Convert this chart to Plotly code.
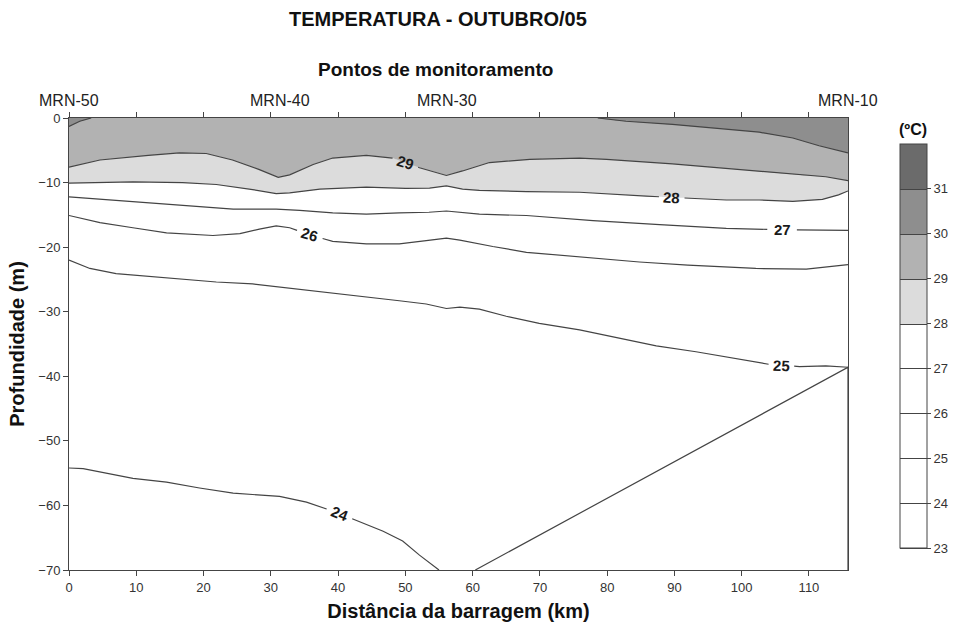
import numpy as np
import plotly.graph_objects as go

# ---------------------------------------------------------------------------
# Temperature section, October 2005: isotherm depths (m) along the reservoir,
# distance (km) from the dam.
# ---------------------------------------------------------------------------
X_MAX = 115.8
DEPTH_MIN = -70.0

ISO_24_KM = [0, 2.1, 9.5, 14.5, 19.4, 24.4, 31.3, 35.3, 38.7, 43.2, 46.7, 49.6, 52.1, 55.0]
ISO_24_M = [-54.2, -54.3, -55.8, -56.4, -57.3, -58.1, -58.6, -59.5, -60.7, -62.5, -64.0, -65.5, -67.7, -70.0]

ISO_25_KM = [0, 3.1, 7.0, 14.5, 21.9, 27.3, 34.3, 39.2, 44.2, 49.1, 53.1, 56.1, 58.1, 61.0,
             65.0, 69.9, 75.9, 80.8, 87.3, 93.2, 99.7, 103.6, 108.6, 112.5, 114.8, 115.8]
ISO_25_M = [-22.0, -23.3, -24.1, -24.8, -25.4, -25.7, -26.5, -27.1, -27.7, -28.3, -28.8, -29.5, -29.3, -29.6,
            -30.7, -31.8, -32.8, -33.9, -35.3, -36.2, -37.4, -38.1, -38.5, -38.4, -38.6, -38.6]

ISO_26_KM = [0, 4.6, 9.5, 14.5, 21.4, 25.4, 28.3, 30.8, 32.8, 35.8, 39.2, 44.2, 49.1, 53.1, 56.1,
             58.1, 61.0, 63.0, 68.0, 77.9, 84.8, 92.0, 102.1, 109.6, 115.8]
ISO_26_M = [-15.1, -16.2, -17.0, -17.8, -18.2, -17.9, -17.2, -16.7, -17.0, -18.1, -19.1, -19.5, -19.5, -19.0, -18.6,
            -18.9, -19.5, -19.9, -20.8, -21.7, -22.3, -22.8, -23.3, -23.4, -22.7]

ISO_27_KM = [0, 9.5, 19.4, 24.4, 30.8, 34.3, 39.2, 44.2, 49.1, 53.5, 56.1, 58.5, 61.0, 68.0,
             77.9, 87.8, 97.7, 106.0, 112.5, 115.8]
ISO_27_M = [-12.2, -12.9, -13.7, -14.1, -14.1, -14.3, -14.7, -14.9, -14.7, -14.6, -14.4, -14.6, -14.9, -15.1,
            -15.9, -16.5, -17.1, -17.3, -17.4, -17.4]

ISO_28_KM = [0, 9.5, 16.9, 21.9, 27.3, 30.8, 32.8, 37.3, 44.2, 50.0, 53.6, 56.1, 58.5, 61.0, 68.0,
             75.9, 85.8, 97.7, 102.6, 107.6, 112.0, 114.4, 115.8]
ISO_28_M = [-10.1, -9.9, -10.0, -10.3, -11.1, -11.7, -11.6, -11.0, -10.7, -10.9, -10.85, -10.5, -11.0, -11.2, -11.4,
            -11.5, -12.1, -12.7, -12.7, -12.9, -12.6, -11.9, -11.3]

ISO_29_KM = [0, 4.6, 11.8, 16.4, 20.4, 24.3, 28.3, 31.1, 32.8, 36.3, 39.2, 44.2, 48.1, 52.1, 56.1,
             58.5, 62.5, 68.5, 75.9, 79.9, 89.7, 99.7, 104.0, 109.1, 112.5, 115.8]
ISO_29_M = [-7.6, -6.5, -5.8, -5.4, -5.5, -6.5, -8.0, -9.2, -8.8, -7.2, -6.2, -5.8, -6.2, -7.7, -8.9,
            -8.2, -6.9, -6.4, -6.2, -6.4, -7.1, -8.0, -8.4, -8.9, -9.1, -9.7]

# the 30 degC isotherm only appears in two separate surface patches
ISO_30A_KM = [0, 1.6, 3.3]
ISO_30A_M = [-1.3, -0.5, 0.0]
ISO_30B_KM = [78.6, 82.8, 89.7, 97.7, 102.6, 107.6, 111.5, 115.8]
ISO_30B_M = [0.0, -0.5, -1.0, -1.7, -2.2, -3.1, -4.3, -5.4]

# reservoir bottom (bathymetry) along the section
BOTTOM_KM = [60.4, 115.8]
BOTTOM_M = [-70.0, -38.6]

STATION_NAMES = ["MRN-50", "MRN-40", "MRN-30", "MRN-10"]
STATION_KM = [0, 31.3, 56.2, 115.8]

LEVELS = [23, 24, 25, 26, 27, 28, 29, 30, 31]
KEY_RANGE = [23, 32]

ISOTHERMS = {
    24: [(ISO_24_KM, ISO_24_M)],
    25: [(ISO_25_KM, ISO_25_M)],
    26: [(ISO_26_KM, ISO_26_M)],
    27: [(ISO_27_KM, ISO_27_M)],
    28: [(ISO_28_KM, ISO_28_M)],
    29: [(ISO_29_KM, ISO_29_M)],
    30: [(ISO_30A_KM, ISO_30A_M), (ISO_30B_KM, ISO_30B_M)],
}

# where each isotherm carries its inline label: (km along line, half gap km, rotation deg)
LABEL_SPOTS = {
    29: (50.0, 1.9, 17),
    28: (89.6, 1.9, 3),
    27: (106.0, 2.2, 0),
    26: (35.8, 1.9, 16),
    25: (105.9, 1.9, 2),
    24: (40.2, 1.9, 22),
}

# band colours (lower bound -> fill)
BAND_COLORS = {
    22: "#ffffff", 23: "#ffffff", 24: "#ffffff", 25: "#ffffff", 26: "#ffffff",
    27: "#ffffff", 28: "#dcdcdc", 29: "#b2b2b2", 30: "#8e8e8e", 31: "#6b6b6b",
}
LINE_COLOR = "#444444"
FONT = "Liberation Sans, Arial, sans-serif"

# plot-area geometry in pixels
W, H = 953, 629
ML, MR, MT, MB = 69, 105, 118, 59
PW, PH = W - ML - MR, H - MT - MB


def px_to_paper(px, py):
    return (px - ML) / PW, (H - MB - py) / PH


# ---------------------------------------------------------------------------
# Temperature field rebuilt from the isotherm depths (linear in depth between
# isotherms in every column)
# ---------------------------------------------------------------------------
xg = np.round(np.arange(0, X_MAX + 1e-9, 0.3), 3)
if xg[-1] < X_MAX:
    xg = np.append(xg, X_MAX)
dg = np.round(np.linspace(DEPTH_MIN, 0, 701), 3)
Z = np.empty((dg.size, xg.size))

for j, x in enumerate(xg):
    kd, kt = [], []
    for level, pieces in ISOTHERMS.items():
        for xs, ds in pieces:
            if xs[0] - 1e-9 <= x <= xs[-1] + 1e-9:
                kd.append(float(np.interp(x, xs, ds)))
                kt.append(level)
    kd = np.array(kd)
    kt = np.array(kt, float)
    top_i = np.argmax(kt)
    bot_i = np.argmin(kt)
    if kd[top_i] < -0.01:
        kd = np.append(kd, 0.0)
        kt = np.append(kt, kt[top_i] + 0.5)
    if kd[bot_i] > DEPTH_MIN + 0.01:
        kd = np.append(kd, DEPTH_MIN)
        kt = np.append(kt, kt[bot_i] - 0.5)
    order = np.argsort(kd)
    Z[:, j] = np.interp(dg, kd[order], kt[order])

Z = np.round(Z, 3)

c_start, c_end, c_size = LEVELS[0], LEVELS[-1], 1


def step_scale(lo_z, hi_z):
    """Piecewise-constant grey scale normalised to [lo_z, hi_z]."""
    out = []
    for b in sorted(BAND_COLORS):
        col = BAND_COLORS[b]
        for v in (b, b + 1):
            p = min(max((v - lo_z) / (hi_z - lo_z), 0.0), 1.0)
            if out and p < out[-1][0]:
                p = out[-1][0]
            out.append([p, col])
    out[0][0] = 0.0
    out[-1][0] = 1.0
    return out


fig = go.Figure()

# filled temperature bands
fig.add_trace(go.Contour(
    x=xg, y=dg, z=Z,
    contours=dict(start=c_start, end=c_end, size=c_size, coloring="fill", showlines=False),
    colorscale=step_scale(c_start - c_size / 2, c_end + c_size / 2),
    line=dict(width=0, smoothing=0),
    showscale=False,
    hoverinfo="skip",
))

# same field on a detached, hidden subplot: it only supplies the banded colour key
step_x, step_y = 6, 10
cb_x, cb_y = px_to_paper(900, 346)
fig.add_trace(go.Contour(
    x=xg[::step_x], y=dg[::step_y], z=Z[::step_y, ::step_x],
    xaxis="x2", yaxis="y2",
    contours=dict(start=c_start, end=c_end, size=c_size, coloring="heatmap", showlines=True),
    zmin=KEY_RANGE[0], zmax=KEY_RANGE[1],
    colorscale=step_scale(KEY_RANGE[0], KEY_RANGE[1]),
    line=dict(width=1, color=LINE_COLOR, smoothing=0),
    hoverinfo="skip",
    colorbar=dict(
        x=cb_x, xanchor="left", xpad=0,
        y=cb_y, yanchor="middle", ypad=0,
        len=404, lenmode="pixels",
        thickness=27, thicknessmode="pixels",
        outlinewidth=1, outlinecolor=LINE_COLOR,
        ticks="outside", ticklen=4, tickcolor=LINE_COLOR,
        tickvals=LEVELS, ticktext=[str(v) for v in LEVELS],
        tickfont=dict(family=FONT, size=13, color="#333"),
    ),
))


def broken_line(xs, ds, center, half):
    xs = np.asarray(xs, float)
    ds = np.asarray(ds, float)
    lo, hi = center - half, center + half
    left = xs < lo
    right = xs > hi
    xl = list(xs[left]) + [lo]
    yl = list(ds[left]) + [float(np.interp(lo, xs, ds))]
    xr = [hi] + list(xs[right])
    yr = [float(np.interp(hi, xs, ds))] + list(ds[right])
    return xl + [None] + xr, yl + [None] + yr


annotations = []
for level, pieces in ISOTHERMS.items():
    for xs, ds in pieces:
        if level in LABEL_SPOTS:
            cx, half, ang = LABEL_SPOTS[level]
            lx, ly = broken_line(xs, ds, cx, half)
            annotations.append(dict(
                x=cx, y=float(np.interp(cx, xs, ds)), xref="x", yref="y",
                text=f"<b>{level}</b>", showarrow=False, textangle=ang,
                xanchor="center", yanchor="middle",
                font=dict(family=FONT, size=15, color="#1a1a1a"),
            ))
        else:
            lx, ly = list(xs), list(ds)
        fig.add_trace(go.Scatter(
            x=lx, y=ly, mode="lines",
            line=dict(color=LINE_COLOR, width=1.2),
            hoverinfo="skip", showlegend=False,
        ))

# reservoir floor: blank out the section below the bottom line
fig.add_trace(go.Scatter(
    x=BOTTOM_KM + [BOTTOM_KM[-1]], y=BOTTOM_M + [BOTTOM_M[0]],
    mode="lines", fill="toself", fillcolor="#ffffff",
    line=dict(color=LINE_COLOR, width=1.2),
    hoverinfo="skip", showlegend=False,
))

# station names along the top edge
for name, km in zip(STATION_NAMES, STATION_KM):
    annotations.append(dict(
        x=km, y=1 + 18 / PH, xref="x", yref="paper", text=name, showarrow=False,
        xanchor="center", yanchor="middle",
        font=dict(family=FONT, size=16, color="#222"),
    ))

tx, ty = px_to_paper(438, 19)
annotations.append(dict(
    x=tx, y=ty, xref="paper", yref="paper",
    text="<b>TEMPERATURA - OUTUBRO/05</b>", showarrow=False,
    xanchor="center", yanchor="middle",
    font=dict(family=FONT, size=20, color="#111"),
))
sx, sy = px_to_paper(435, 69)
annotations.append(dict(
    x=sx, y=sy, xref="paper", yref="paper",
    text="<b>Pontos de monitoramento</b>", showarrow=False,
    xanchor="center", yanchor="middle",
    font=dict(family=FONT, size=19, color="#111"),
))
ux, uy = px_to_paper(913, 129)
annotations.append(dict(
    x=ux, y=uy, xref="paper", yref="paper",
    text="<b>(ºC)</b>", showarrow=False,
    xanchor="center", yanchor="middle",
    font=dict(family=FONT, size=16, color="#111"),
))

axis_common = dict(
    showline=True, linecolor=LINE_COLOR, linewidth=1,
    ticks="outside", tickcolor=LINE_COLOR, ticklen=5,
    showgrid=False, zeroline=False,
    tickfont=dict(family=FONT, size=13, color="#333"),
)

fig.update_layout(
    width=W, height=H, autosize=False,
    margin=dict(l=ML, r=MR, t=MT, b=MB, autoexpand=False),
    paper_bgcolor="white", plot_bgcolor="white",
    showlegend=False,
    annotations=annotations,
    xaxis=dict(
        range=[0, X_MAX], tick0=0, dtick=10, mirror="ticks",
        title=dict(text="<b>Distância da barragem (km)</b>", standoff=10,
                   font=dict(family=FONT, size=20, color="#111")),
        automargin=False,
        **axis_common,
    ),
    yaxis=dict(
        range=[DEPTH_MIN, 0], tick0=0, dtick=10, mirror=True,
        title=dict(text="<b>Profundidade (m)</b>", standoff=8,
                   font=dict(family=FONT, size=20, color="#111")),
        automargin=False,
        **axis_common,
    ),
    xaxis2=dict(overlaying="x", visible=False, range=[1000, 1001]),
    yaxis2=dict(overlaying="y", visible=False, range=[1000, 1001]),
)

fig.write_html("out.html")
